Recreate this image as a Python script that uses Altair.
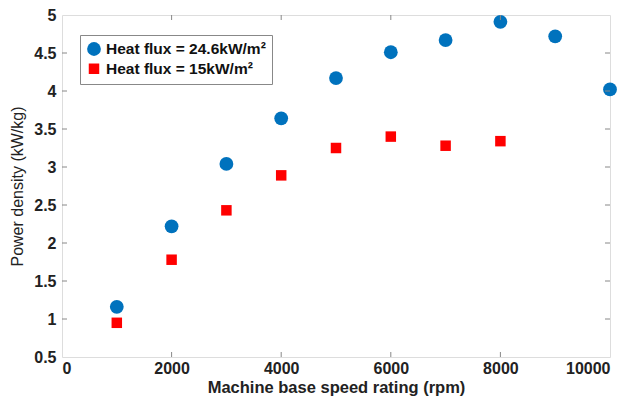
import altair as alt
import pandas as pd

speed_a = [1000, 2000, 3000, 4000, 5000, 6000, 7000, 8000, 9000, 10000]
power_a = [1.16, 2.22, 3.04, 3.64, 4.17, 4.51, 4.67, 4.91, 4.72, 4.02]
speed_b = [1000, 2000, 3000, 4000, 5000, 6000, 7000, 8000]
power_b = [0.95, 1.78, 2.43, 2.89, 3.25, 3.40, 3.28, 3.34]
label_a = "Heat flux = 24.6kW/m²"
label_b = "Heat flux = 15kW/m²"
x_ticks = [0, 2000, 4000, 6000, 8000, 10000]
y_ticks = [0.5, 1, 1.5, 2, 2.5, 3, 3.5, 4, 4.5, 5]

df = pd.concat([
    pd.DataFrame({"speed": speed_a, "power": power_a, "series": label_a}),
    pd.DataFrame({"speed": speed_b, "power": power_b, "series": label_b}),
])

W, H = 548, 342
FONT = "Liberation Sans"
TXT = "#222222"

xs = alt.Scale(domain=[0, 10000], nice=False)
ys = alt.Scale(domain=[0.5, 5], nice=False, zero=False)

common = dict(grid=False, domain=False, tickSize=0, labelOverlap=False, labelBound=False,
              labelFont=FONT, labelFontSize=16, labelFontWeight="bold", labelColor=TXT,
              titleFont=FONT, titleColor=TXT)
x_axis = alt.Axis(values=x_ticks, title="Machine base speed rating (rpm)", format="d",
                  labelPadding=3, titlePadding=3, titleFontSize=16.5, titleFontWeight="bold", **common)
y_axis = alt.Axis(values=y_ticks, title="Power density (kW/kg)", format="~g",
                  labelPadding=6, titlePadding=8, titleFontSize=16, titleFontWeight="normal", **common)

points = alt.Chart(df).mark_point(filled=True, opacity=1, strokeWidth=0).encode(
    x=alt.X("speed:Q", scale=xs, axis=x_axis),
    y=alt.Y("power:Q", scale=ys, axis=y_axis),
    color=alt.Color("series:N", scale=alt.Scale(domain=[label_a, label_b], range=["#0072BD", "#FF0000"]),
                    legend=alt.Legend(title=None, orient="none", legendX=18, legendY=20,
                                      strokeColor="#888888", fillColor="white", padding=6,
                                      labelFont=FONT, labelFontSize=15.5, labelFontWeight="bold",
                                      labelColor="#111111", symbolSize=110, rowPadding=3)),
    shape=alt.Shape("series:N", scale=alt.Scale(domain=[label_a, label_b], range=["circle", "square"]),
                    legend=None),
    size=alt.Size("series:N", scale=alt.Scale(domain=[label_a, label_b], range=[190, 110]), legend=None),
)

xt = pd.DataFrame({"speed": x_ticks[1:-1]})
yt = pd.DataFrame({"power": y_ticks[1:-1]})
tick_col = "#888888"
xb = alt.Chart(xt).mark_rule(color=tick_col).encode(x=alt.X("speed:Q", scale=xs, axis=x_axis), y=alt.value(H), y2=alt.value(H - 5))
xtop = alt.Chart(xt).mark_rule(color=tick_col).encode(x=alt.X("speed:Q", scale=xs, axis=x_axis), y=alt.value(0), y2=alt.value(5))
yl = alt.Chart(yt).mark_rule(color=tick_col).encode(y=alt.Y("power:Q", scale=ys, axis=y_axis), x=alt.value(0), x2=alt.value(5))
yr = alt.Chart(yt).mark_rule(color=tick_col).encode(y=alt.Y("power:Q", scale=ys, axis=y_axis), x=alt.value(W), x2=alt.value(W - 5))

chart = alt.layer(points, xb, xtop, yl, yr).properties(
    width=W, height=H,
    autosize=alt.AutoSizeParams(type="none"),
    padding={"left": 62, "top": 15, "right": 26, "bottom": 46},
).configure_view(stroke="#999999", strokeWidth=1.5).configure(background="white")

chart.save("out.html", embed_options={"renderer": "svg", "actions": False})
